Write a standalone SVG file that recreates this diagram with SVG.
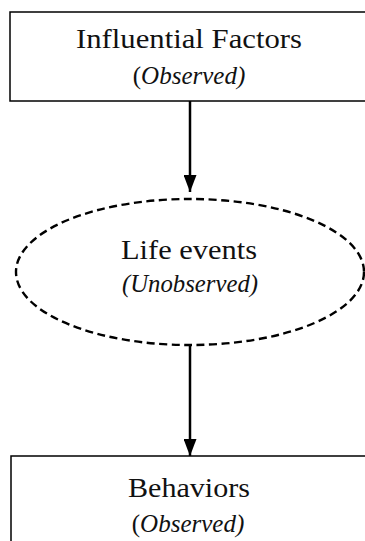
<svg xmlns="http://www.w3.org/2000/svg" width="365" height="541" viewBox="0 0 365 541">
  <style>
    .box { fill: #ffffff; stroke: #000000; stroke-width: 1.5; }
    .oval { fill: none; stroke: #000000; stroke-width: 2.4; stroke-dasharray: 8 4.5; }
    .edge { fill: none; stroke: #000000; stroke-width: 2.5; }
    text { font-family: 'Liberation Serif', 'DejaVu Serif', serif; fill: #111111; text-anchor: middle; }
    .t { font-size: 27px; }
    .s { font-size: 25px; font-style: italic; }
    .up { font-style: normal; }
  </style>
  <defs>
    <marker id="arrow" viewBox="0 0 17 13" refX="17" refY="6.5" markerWidth="17" markerHeight="13" markerUnits="userSpaceOnUse" orient="auto">
      <path d="M0,0 L17,6.5 L0,13 Z" fill="#000000"/>
    </marker>
  </defs>
  <rect width="365" height="541" fill="#ffffff"/>

  <g id="connectors">
    <line class="edge" x1="190" y1="101" x2="190" y2="192" marker-end="url(#arrow)"/>
    <line class="edge" x1="190" y1="345" x2="190" y2="456" marker-end="url(#arrow)"/>
  </g>

  <g id="influential-factors">
    <rect class="box" x="10" y="12" width="400" height="89"/>
    <text class="t" x="189" y="48" font-family="Liberation Serif, serif" textLength="226" lengthAdjust="spacingAndGlyphs">Influential Factors</text>
    <text class="s" x="189" y="84" font-family="Liberation Serif, serif"><tspan class="up">(</tspan>Observed)</text>
  </g>

  <g id="life-events">
    <ellipse class="oval" cx="190" cy="272" rx="174" ry="73"/>
    <text class="t" x="189" y="259" font-family="Liberation Serif, serif" textLength="136" lengthAdjust="spacingAndGlyphs">Life events</text>
    <text class="s" x="190" y="292" font-family="Liberation Serif, serif" textLength="136" lengthAdjust="spacingAndGlyphs">(Unobserved)</text>
  </g>

  <g id="behaviors">
    <rect class="box" x="11" y="456" width="400" height="100"/>
    <text class="t" x="189" y="497" font-family="Liberation Serif, serif" textLength="122" lengthAdjust="spacingAndGlyphs">Behaviors</text>
    <text class="s" x="188" y="532" font-family="Liberation Serif, serif"><tspan class="up">(</tspan>Observed)</text>
  </g>
</svg>
